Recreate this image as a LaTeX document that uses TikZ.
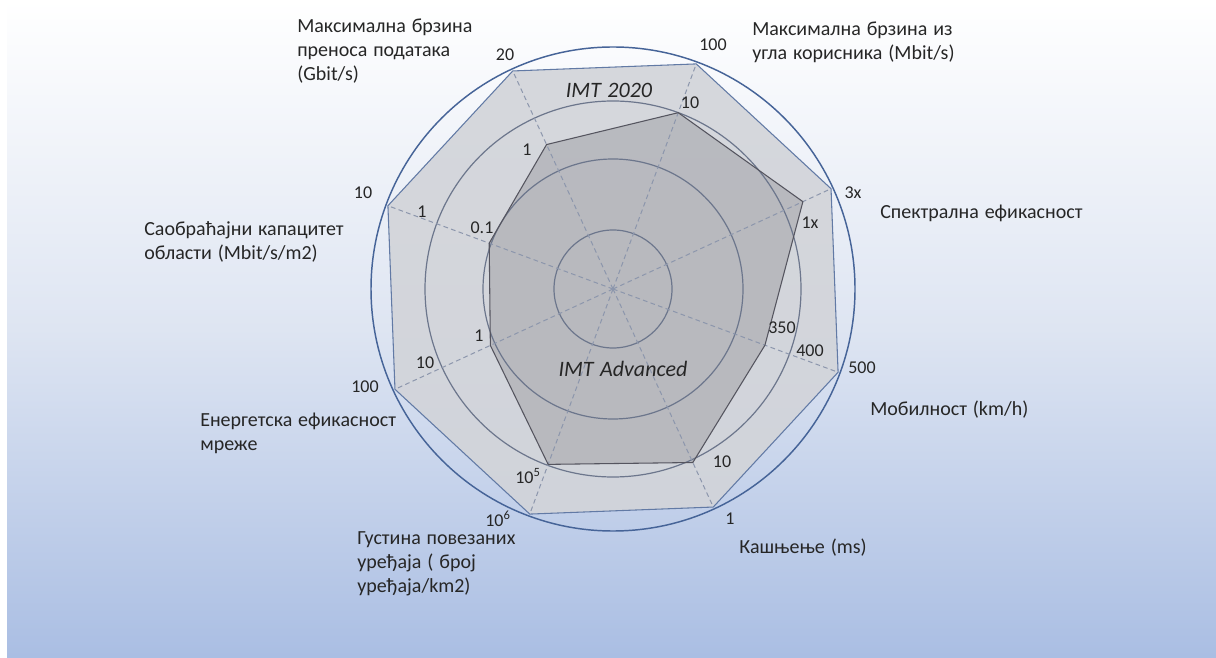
\documentclass[tikz,border=0pt]{standalone}
\usepackage{fontspec}
\setmainfont{Carlito}[WordSpace=1.3]
\definecolor{bgbot}{RGB}{170,190,227}
\definecolor{bgmid}{RGB}{222,229,242}
\definecolor{ringblue}{RGB}{70,100,152}
\definecolor{ringgray}{RGB}{108,118,140}
\definecolor{axisgray}{RGB}{140,150,172}
\definecolor{outerfill}{RGB}{210,212,217}
\definecolor{outeredge}{RGB}{98,122,165}
\definecolor{innerfill}{RGB}{180,181,186}
\definecolor{inneredge}{RGB}{85,85,95}
\definecolor{txt}{RGB}{38,38,38}
% the path box is mapped onto the 25bp--75bp band of the shading
\pgfdeclareverticalshading{bgshade}{100bp}{color(0bp)=(bgbot); color(25bp)=(bgbot); color(50bp)=(bgmid); color(75bp)=(white); color(100bp)=(white)}
\begin{document}
\begin{tikzpicture}[x=0.75pt,y=0.75pt,
  lbl/.style={anchor=base west, inner sep=0pt, text=txt, font=\fontsize{15}{18}\selectfont},
  tick/.style={inner sep=0pt, text=txt, font=\fontsize{13.5}{16}\selectfont},
  series/.style={inner sep=0pt, text=txt, font=\fontsize{16.5}{20}\selectfont\itshape},
  ring/.style={draw=ringgray, line width=0.9pt},
  axis/.style={draw=axisgray, line width=0.75pt, dash pattern=on 3.5pt off 2.5pt}]

\useasboundingbox (0,0) rectangle (1216,657);
\fill[white] (0,0) rectangle (1216,657);
\shade[shading=bgshade] (7,0) rectangle (1216,657);

% chart centre and the eight axis directions
\coordinate (O) at (613,368);
\foreach \n/\a/\r in {1/114.7/159, 2/69.7/188, 3/24.7/209, 4/-20.3/162,
                      5/-65.3/191, 6/-110.3/187, 7/-155.3/135, 8/159.7/132}{
  \path (O) ++(\a:240) coordinate (o\n);
  \path (O) ++(\a:\r) coordinate (i\n);
}

% IMT 2020 and IMT Advanced areas
\fill[outerfill, fill opacity=0.9] (o1)--(o2)--(o3)--(o4)--(o5)--(o6)--(o7)--(o8)--cycle;
\fill[innerfill, fill opacity=0.85] (i1)--(i2)--(i3)--(i4)--(i5)--(i6)--(i7)--(i8)--cycle;

% rings and spokes
\draw[ring] (O) circle[radius=59];
\draw[ring] (O) circle[radius=130];
\draw[ring] (O) circle[radius=188];
\foreach \n in {1,...,8} \draw[axis] (O) -- (o\n);
\draw[draw=ringblue, line width=1.1pt] (O) circle[radius=242];

\draw[outeredge, line width=0.8pt, line join=round] (o1)--(o2)--(o3)--(o4)--(o5)--(o6)--(o7)--(o8)--cycle;
\draw[inneredge, line width=0.8pt, line join=round] (i1)--(i2)--(i3)--(i4)--(i5)--(i6)--(i7)--(i8)--cycle;

% series names
\node[series] (s2020) at (609,567) {IMT 2020};
\node[series] (sadv) at (623,288) {IMT Advanced};

% scale values
\node[tick] (t1a) at (505,602) {20};
\node[tick] (t1b) at (527,507) {1};
\node[tick] (t2a) at (713,612) {100};
\node[tick] (t2b) at (690,554) {10};
\node[tick] (t3a) at (853,464) {3x};
\node[tick] (t3b) at (810,434) {1x};
\node[tick] (t4b) at (782,329) {350};
\node[tick] (t4m) at (810,306) {400};
\node[tick] (t4a) at (862,289) {500};
\node[tick] (t5b) at (722,195) {10};
\node[tick] (t5a) at (730,138) {1};
\node[tick] (t6b) at (528,181) {10\textsuperscript{5}};
\node[tick] (t6a) at (498,138) {10\textsuperscript{6}};
\node[tick] (t7b) at (479,321) {1};
\node[tick] (t7m) at (425,294) {10};
\node[tick] (t7a) at (365,270) {100};
\node[tick] (t8a) at (363,464) {10};
\node[tick] (t8m) at (422,445) {1};
\node[tick] (t8b) at (482,429) {0.1};

% axis titles
\node[lbl] (l1) at (297,624) {\vtop{\hbox{Максимална брзина}\hbox{преноса података}\hbox{(Gbit/s)}}};
\node[lbl] (l2) at (752,621) {\vtop{\hbox{Максимална брзина из}\hbox{угла корисника (Mbit/s)}}};
\node[lbl] (l3) at (880,438) {Спектрална ефикасност};
\node[lbl] (l4) at (870,241) {Мобилност (km/h)};
\node[lbl] (l5) at (739,104) {Кашњење (ms)};
\node[lbl] (l6) at (357,113) {\vtop{\hbox{Густина повезаних}\hbox{уређаја ( број}\hbox{уређаја/km2)}}};
\node[lbl] (l7) at (200,230) {\vtop{\hbox{Енергетска ефикасност}\hbox{мреже}}};
\node[lbl] (l8) at (144,421) {\vtop{\hbox{Саобраћајни капацитет}\hbox{области (Mbit/s/m2)}}};
\end{tikzpicture}
\end{document}
